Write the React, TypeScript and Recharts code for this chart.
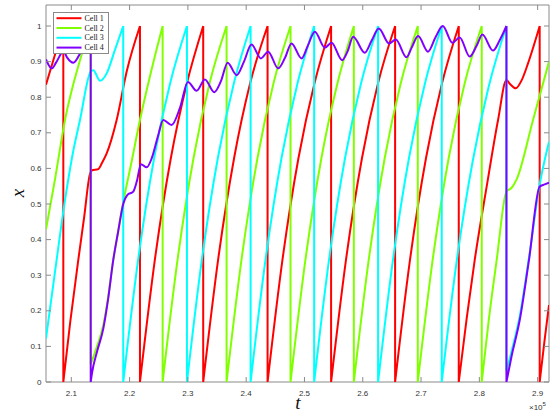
import { LineChart, Line, XAxis, YAxis, ReferenceArea } from 'recharts';

// t is in units of 1e5 (the "x10^5" factor is printed under the axis)
const tTicks = [2.1, 2.2, 2.3, 2.4, 2.5, 2.6, 2.7, 2.8, 2.9];
const xTicks = [0, 0.1, 0.2, 0.3, 0.4, 0.5, 0.6, 0.7, 0.8, 0.9, 1];
const tDomain = [2.0566, 2.9195];
const xDomain = [0, 1.059];

type Pt = [number, number];

// Cell 1: rising branches between firings
const cell1Ramps: Pt[][] = [
    [[2.0566, 0.835], [2.0721, 0.92], [2.0863, 1]],
    [[2.0863, 0], [2.0983, 0.17], [2.112, 0.343], [2.1218, 0.46], [2.1321, 0.585], [2.135, 0.594], [2.1463, 0.598], [2.1526, 0.615], [2.1607, 0.642], [2.1778, 0.736], [2.195, 0.872], [2.2178, 1]],
    [[2.2178, 0], [2.2435, 0.345], [2.2709, 0.63], [2.2984, 0.84], [2.3263, 1]],
    [[2.3263, 0], [2.352, 0.345], [2.3794, 0.63], [2.4069, 0.84], [2.4367, 1]],
    [[2.4367, 0], [2.4624, 0.345], [2.4898, 0.63], [2.5173, 0.84], [2.5457, 1]],
    [[2.5457, 0], [2.5714, 0.345], [2.5988, 0.63], [2.6263, 0.84], [2.6555, 1]],
    [[2.6555, 0], [2.6812, 0.345], [2.7086, 0.63], [2.7361, 0.84], [2.7647, 1]],
    [[2.7647, 0], [2.7784, 0.18], [2.7921, 0.343], [2.8127, 0.55], [2.8321, 0.736], [2.8465, 0.848], [2.8521, 0.838], [2.8624, 0.825], [2.8727, 0.848], [2.8835, 0.895], [2.9035, 1]],
    [[2.9035, 0], [2.9121, 0.12], [2.9195, 0.216]],
];
// firing times: [t, value after reset]
const cell1Resets: Pt[] = [[2.0863, 0], [2.2178, 0], [2.3263, 0], [2.4367, 0], [2.5457, 0], [2.6555, 0], [2.7647, 0], [2.9035, 0]];

// Cell 2
const cell2Ramps: Pt[][] = [
    [[2.0566, 0.429], [2.0721, 0.57], [2.0892, 0.736], [2.1149, 0.904], [2.1333, 1]],
    [[2.1333, 0.05], [2.1441, 0.1], [2.1549, 0.16], [2.1629, 0.235], [2.172, 0.343], [2.1801, 0.42], [2.1891, 0.505], [2.2036, 0.62], [2.2178, 0.736], [2.2366, 0.87], [2.2567, 1]],
    [[2.2567, 0], [2.2824, 0.345], [2.3098, 0.63], [2.3373, 0.84], [2.3664, 1]],
    [[2.3664, 0], [2.3921, 0.345], [2.4195, 0.63], [2.447, 0.84], [2.4761, 1]],
    [[2.4761, 0], [2.5018, 0.345], [2.5292, 0.63], [2.5567, 0.84], [2.5847, 1]],
    [[2.5847, 0], [2.6104, 0.345], [2.6378, 0.63], [2.6653, 0.84], [2.6944, 1]],
    [[2.6944, 0], [2.7201, 0.345], [2.7475, 0.63], [2.775, 0.84], [2.8041, 1]],
    [[2.8041, 0], [2.8166, 0.18], [2.8298, 0.343], [2.8465, 0.535], [2.8551, 0.545], [2.8642, 0.57], [2.8921, 0.736], [2.9195, 0.9]],
];
const cell2Resets: Pt[] = [[2.1333, 0.05], [2.2567, 0], [2.3664, 0], [2.4761, 0], [2.5847, 0], [2.6944, 0], [2.8041, 0]];

// Cell 3
const cell3Ramps: Pt[][] = [
    [[2.0566, 0.122], [2.0721, 0.31], [2.0892, 0.511], [2.1012, 0.63], [2.1149, 0.736], [2.1333, 0.872], [2.1377, 0.876], [2.1492, 0.846], [2.1607, 0.867], [2.1749, 0.933], [2.1891, 1]],
    [[2.1891, 0], [2.2148, 0.345], [2.2422, 0.63], [2.2697, 0.84], [2.2984, 1]],
    [[2.2984, 0], [2.3241, 0.345], [2.3515, 0.63], [2.379, 0.84], [2.4076, 1]],
    [[2.4076, 0], [2.4333, 0.345], [2.4607, 0.63], [2.4882, 0.84], [2.5166, 1]],
    [[2.5166, 0], [2.5423, 0.345], [2.5697, 0.63], [2.5972, 0.84], [2.6263, 1]],
    [[2.6263, 0], [2.652, 0.345], [2.6794, 0.63], [2.7069, 0.84], [2.7355, 1]],
    [[2.7355, 0], [2.7612, 0.34], [2.7886, 0.62], [2.8161, 0.83], [2.8465, 1]],
    [[2.8465, 0.03], [2.8551, 0.085], [2.8693, 0.185], [2.8852, 0.35], [2.9035, 0.555], [2.9195, 0.675]],
];
const cell3Resets: Pt[] = [[2.1891, 0], [2.2984, 0], [2.4076, 0], [2.5166, 0], [2.6263, 0], [2.7355, 0], [2.8465, 0.03]];

// Cell 4: pushed up a little every time one of the others fires
const cell4Ramps: Pt[][] = [
    [[2.0566, 0.906], [2.0664, 0.881], [2.0738, 0.897], [2.0835, 0.925], [2.0863, 0.93], [2.0926, 0.912], [2.1034, 0.897], [2.1149, 0.923], [2.1235, 0.955], [2.1333, 1]],
    [
        [2.1333, 0], [2.1355, 0.025], [2.1441, 0.085], [2.1549, 0.15], [2.1629, 0.23], [2.172, 0.343], [2.1801, 0.42], [2.1891, 0.5],
        [2.196, 0.525], [2.2063, 0.535], [2.2126, 0.565], [2.2195, 0.612], [2.2293, 0.603], [2.2383, 0.63], [2.2486, 0.69], [2.2577, 0.736],
        [2.2721, 0.722], [2.2864, 0.77], [2.3001, 0.843], [2.315, 0.818], [2.3292, 0.85], [2.3452, 0.814], [2.3567, 0.845], [2.3682, 0.897],
        [2.3836, 0.862], [2.3962, 0.9], [2.4091, 0.948], [2.4252, 0.909], [2.4377, 0.928], [2.4549, 0.881], [2.4664, 0.91], [2.4778, 0.951],
        [2.495, 0.909], [2.5058, 0.945], [2.5178, 0.984], [2.5349, 0.939], [2.5464, 0.953], [2.5646, 0.904], [2.5743, 0.93], [2.5835, 0.97],
        [2.6035, 0.925], [2.6155, 0.96], [2.6275, 0.993], [2.6452, 0.951], [2.6567, 0.962], [2.675, 0.912], [2.6841, 0.94], [2.6949, 0.972],
        [2.712, 0.928], [2.7252, 0.97], [2.7372, 1], [2.7538, 0.953], [2.7663, 0.968], [2.7835, 0.914], [2.7955, 0.945], [2.8052, 0.976],
        [2.8234, 0.931], [2.8349, 0.96], [2.8465, 1],
    ],
    [[2.8465, 0], [2.8551, 0.071], [2.8693, 0.174], [2.8852, 0.343], [2.9035, 0.549], [2.9121, 0.555], [2.9195, 0.56]],
];
const cell4Resets: Pt[] = [[2.1333, 0], [2.8465, 0]];

const cellNames = ['Cell 1', 'Cell 2', 'Cell 3', 'Cell 4'];
const cellColors = ['#ff0000', '#80ff00', '#00ffff', '#8000ff'];

const AXIS = '#8a8a8a';
const LABEL = '#333333';
const PLOT = { left: 46, right: 549, top: 5, bottom: 382 };
const TICK_LEN = 5;

/**
 * Build one series: each branch and each vertical reset is its own
 * sub-path, separated by a null so the curve restarts.
 */
function buildSeries(ramps: Pt[][], resets: Pt[]) {
    const rows: { t: number; x: number | null }[] = [];
    const pieces: Pt[][] = [...ramps, ...resets.map(([t, low]) => [[t, 1], [t, low]] as Pt[])];
    pieces.forEach(piece => {
        piece.forEach(([t, x]) => rows.push({ t, x }));
        rows.push({ t: piece[piece.length - 1][0], x: null });
    });
    return rows;
}

const series = [
    buildSeries(cell1Ramps, cell1Resets),
    buildSeries(cell2Ramps, cell2Resets),
    buildSeries(cell3Ramps, cell3Resets),
    buildSeries(cell4Ramps, cell4Resets),
];

const tickFont = { fontFamily: '"Liberation Sans", Arial, Helvetica, sans-serif', fontSize: 8, fill: LABEL };

function TimeTick({ x, payload }: any) {
    return (
        <g>
            <line x1={x} x2={x} y1={PLOT.bottom} y2={PLOT.bottom - TICK_LEN} stroke={AXIS} />
            <line x1={x} x2={x} y1={PLOT.top} y2={PLOT.top + TICK_LEN} stroke={AXIS} />
            <text x={x} y={PLOT.bottom + 11} textAnchor="middle" dominantBaseline="central" {...tickFont}>
                {payload.value}
            </text>
        </g>
    );
}

function ValueTick({ y, payload }: any) {
    return (
        <g>
            <line x1={PLOT.left} x2={PLOT.left + TICK_LEN} y1={y} y2={y} stroke={AXIS} />
            <line x1={PLOT.right} x2={PLOT.right - TICK_LEN} y1={y} y2={y} stroke={AXIS} />
            <text x={PLOT.left - 4.5} y={y} textAnchor="end" dominantBaseline="central" {...tickFont}>
                {payload.value}
            </text>
        </g>
    );
}

function CellLegend() {
    return (
        <svg width={57} height={43} style={{ position: 'absolute', left: 53, top: 12 }}>
            <rect x={0.5} y={0.5} width={55} height={41} fill="#ffffff" stroke={AXIS} />
            {cellNames.map((name, i) => (
                <g key={name}>
                    <line x1={3.5} x2={28.5} y1={6.2 + i * 9.8} y2={6.2 + i * 9.8} stroke={cellColors[i]} strokeWidth={2} />
                    <text
                        x={31.5}
                        y={6.2 + i * 9.8}
                        dominantBaseline="central"
                        fontFamily='"Liberation Serif", "Times New Roman", serif'
                        fontSize={8}
                        fill="#222"
                    >
                        {name}
                    </text>
                </g>
            ))}
        </svg>
    );
}

export default function App() {
    const italic = { fontFamily: '"Liberation Serif", "Times New Roman", serif', fontStyle: 'italic', fontSize: 19, color: '#111' };
    return (
        <div style={{ position: 'absolute', left: 0, top: 0, width: 553, height: 417, background: '#ffffff' }}>
            <LineChart width={553} height={417} margin={{ top: 5, right: 4, bottom: 0, left: 0 }}>
                <XAxis
                    dataKey="t"
                    type="number"
                    domain={tDomain}
                    ticks={tTicks}
                    interval={0}
                    allowDataOverflow
                    height={35}
                    tickLine={false}
                    axisLine={false}
                    tick={(props: any) => <TimeTick {...props} />}
                />
                <YAxis
                    type="number"
                    domain={xDomain}
                    ticks={xTicks}
                    interval={0}
                    allowDataOverflow
                    width={46}
                    tickLine={false}
                    axisLine={false}
                    tick={(props: any) => <ValueTick {...props} />}
                />
                <ReferenceArea x1={tDomain[0]} x2={tDomain[1]} y1={xDomain[0]} y2={xDomain[1]} fill="none" stroke={AXIS} ifOverflow="visible" />
                {series.map((rows, i) => (
                    <Line
                        key={cellNames[i]}
                        data={rows}
                        dataKey="x"
                        name={cellNames[i]}
                        type="monotone"
                        stroke={cellColors[i]}
                        strokeWidth={2}
                        dot={false}
                        activeDot={false}
                        connectNulls={false}
                        isAnimationActive={false}
                    />
                ))}
            </LineChart>
            <CellLegend />
            <div style={{ ...italic, position: 'absolute', left: 8, top: 182, width: 20, textAlign: 'center', transform: 'rotate(-90deg)' }}>x</div>
            <div style={{ ...italic, position: 'absolute', left: 288, top: 392, width: 20, textAlign: 'center' }}>t</div>
            <div style={{ position: 'absolute', left: 529, top: 401, fontFamily: '"Liberation Sans", Arial, sans-serif', fontSize: 8, color: LABEL }}>
                ×10<sup style={{ fontSize: 6, verticalAlign: 4 }}>5</sup>
            </div>
        </div>
    );
}
